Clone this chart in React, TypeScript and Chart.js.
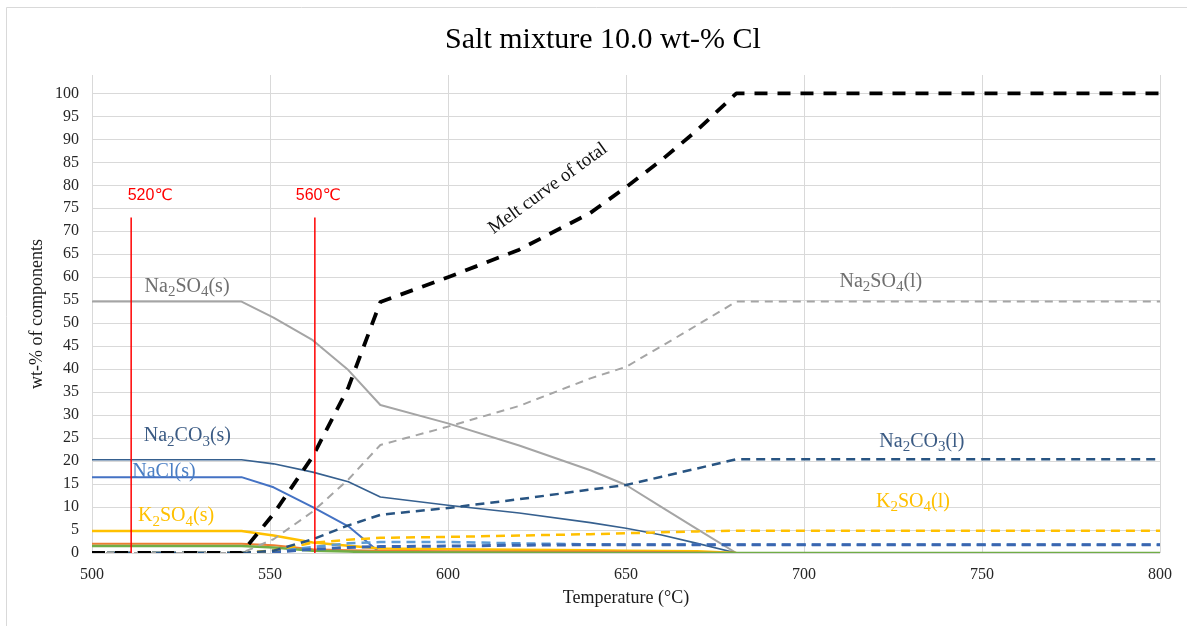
import { useEffect, useRef } from 'react';
import { Chart, registerables } from 'chart.js';

Chart.register(...registerables);

// Temperature grid (°C) shared by every series
const temps = [500, 542, 551, 562, 572, 581, 600, 620, 640, 650, 660, 670, 681, 800];

// wt-% of components
const meltTotal = [0, 0, 8.5, 21, 36, 54.6, 60, 66, 74, 79.6, 85.5, 92, 100, 100];
const na2so4Solid = [54.7, 54.7, 51.2, 46.3, 39.8, 32.2, 28.2, 23.4, 18, 14.8, 10, 5.2, 0, null];
const na2so4Liquid = [0, 0, 3, 9, 16, 23.5, 27.5, 32, 38, 40.5, 45, 49.6, 54.7, 54.7];
const na2co3Solid = [20.3, 20.3, 19.4, 17.6, 15.5, 12.2, 10.4, 8.7, 6.6, 5.4, 3.9, 2.1, 0, null];
const na2co3Liquid = [0, 0, 0.5, 3, 6, 8.3, 9.8, 11.7, 13.8, 14.8, 16.6, 18.4, 20.4, 20.4];
const naclSolid = [16.5, 16.5, 14.3, 10, 5.8, 0, null, null, null, null, null, null, null, null];
const naclLiquid = [0, 0, 0.3, 1.3, 2.1, 2.4, 2.4, 2.1, 1.9, 1.8, 1.8, 1.8, 1.8, 1.8];
const minorLiquid = [0, 0, 0.2, 0.8, 1.2, 1.4, 1.5, 1.7, 1.8, 1.8, 1.8, 1.8, 1.8, 1.8];
const k2so4Solid = [4.8, 4.8, 3.8, 2.3, 1.6, 1.0, 0.8, 0.7, 0.6, 0.5, 0.45, 0.4, 0, null];
const k2so4Liquid = [0, 0, 0.6, 2.2, 2.9, 3.3, 3.5, 3.8, 4.1, 4.3, 4.5, 4.7, 4.85, 4.85];
const orangeSolid = [2.0, 2.0, 1.7, 0.8, 0.6, 0.5, 0.4, 0.35, 0.3, 0.25, 0.2, 0.1, 0, null];
const greenSolid = [1.5, 1.5, 1.2, 0.5, 0.3, 0.15, 0.1, 0.05, 0, 0, 0, 0, 0, 0];

// Reference temperatures marked with red vertical lines
const markerTemps = [511, 562.6];
const markerTop = 73;
const markerTexts = ['520℃', '560℃'];

// Axis ticks
const xTicks = [500, 550, 600, 650, 700, 750, 800];
const yTickStep = 5;
const yTickMax = 100;

// In-plot text labels: [text, temperature, wt-%, colour]
const seriesLabels: [string, number, number, string][] = [
  ['Na2SO4(s)', 526.7, 58.3, '#6f6f6f'],
  ['Na2CO3(s)', 526.8, 25.7, '#3b5b84'],
  ['NaCl(s)', 520.2, 18.0, '#4a7ec4'],
  ['K2SO4(s)', 523.6, 8.3, '#ffc000'],
  ['Na2SO4(l)', 721.6, 59.3, '#6f6f6f'],
  ['Na2CO3(l)', 733.1, 24.6, '#3b5b84'],
  ['K2SO4(l)', 730.6, 11.5, '#ffc000'],
];
const markerLabelPos: [number, number][] = [[516.3, 77.8], [563.5, 77.8]];
const meltLabel = { text: 'Melt curve of total', x: 628.1, y: 79.3 };

const toPoints = (vals: (number | null)[]) => temps.map((t, i) => ({ x: t, y: vals[i] }));

const SERIF = '"Liberation Serif", "Times New Roman", serif';

function drawFormula(ctx: CanvasRenderingContext2D, text: string, cx: number, cy: number, size: number, color: string) {
  const parts: { s: string; sub: boolean }[] = [];
  for (const ch of text) {
    const sub = /[0-9]/.test(ch);
    const last = parts[parts.length - 1];
    if (last && last.sub === sub) last.s += ch;
    else parts.push({ s: ch, sub });
  }
  const subSize = Math.round(size * 0.74);
  let width = 0;
  for (const p of parts) {
    ctx.font = `${p.sub ? subSize : size}px ${SERIF}`;
    width += ctx.measureText(p.s).width;
  }
  let x = cx - width / 2;
  const base = cy + size * 0.33;
  ctx.fillStyle = color;
  ctx.textAlign = 'left';
  ctx.textBaseline = 'alphabetic';
  for (const p of parts) {
    ctx.font = `${p.sub ? subSize : size}px ${SERIF}`;
    ctx.fillText(p.s, x, p.sub ? base + size * 0.22 : base);
    x += ctx.measureText(p.s).width;
  }
}

const decorPlugin = {
  id: 'decor',
  beforeDraw(chart: any) {
    const ctx = chart.ctx as CanvasRenderingContext2D;
    ctx.save();
    ctx.fillStyle = '#ffffff';
    ctx.fillRect(0, 0, chart.width, chart.height);
    ctx.strokeStyle = '#d9d9d9';
    ctx.lineWidth = 1;
    ctx.beginPath();
    ctx.moveTo(6.5, chart.height);
    ctx.lineTo(6.5, 7.5);
    ctx.lineTo(chart.width, 7.5);
    ctx.stroke();
    ctx.restore();
  },
  afterDraw(chart: any) {
    const ctx = chart.ctx as CanvasRenderingContext2D;
    const xs = chart.scales.x;
    const ys = chart.scales.y;
    const area = chart.chartArea;
    ctx.save();

    // Title
    ctx.fillStyle = '#000000';
    ctx.textAlign = 'center';
    ctx.textBaseline = 'middle';
    ctx.font = `30px ${SERIF}`;
    ctx.fillText('Salt mixture 10.0 wt-% Cl', 603, 40);

    // Axis titles
    ctx.font = `18px ${SERIF}`;
    ctx.fillStyle = '#1a1a1a';
    ctx.fillText('Temperature (°C)', (area.left + area.right) / 2, 598);
    ctx.save();
    ctx.translate(37, (area.top + area.bottom) / 2);
    ctx.rotate(-Math.PI / 2);
    ctx.fillText('wt-% of components', 0, 0);
    ctx.restore();

    // Series labels
    for (const [text, t, v, color] of seriesLabels) {
      drawFormula(ctx, text, xs.getPixelForValue(t), ys.getPixelForValue(v), 20, color);
    }

    // Melt curve label
    ctx.save();
    ctx.translate(xs.getPixelForValue(meltLabel.x), ys.getPixelForValue(meltLabel.y));
    ctx.rotate((-36 * Math.PI) / 180);
    ctx.font = `19px ${SERIF}`;
    ctx.fillStyle = '#111111';
    ctx.textAlign = 'center';
    ctx.textBaseline = 'middle';
    ctx.fillText(meltLabel.text, 0, 0);
    ctx.restore();

    // Marker labels
    ctx.font = '16px "Liberation Sans", "DejaVu Sans", sans-serif';
    ctx.fillStyle = '#ff0000';
    ctx.textAlign = 'center';
    ctx.textBaseline = 'middle';
    markerTexts.forEach((txt, i) => {
      const [t, v] = markerLabelPos[i];
      ctx.fillText(txt, xs.getPixelForValue(t), ys.getPixelForValue(v));
    });
    ctx.restore();
  },
};

export default function App() {
  const canvasRef = useRef<HTMLCanvasElement | null>(null);

  useEffect(() => {
    document.body.style.margin = '0';
    const canvas = canvasRef.current;
    if (!canvas) return;

    const line = (data: any[], color: string, width: number, dash: number[] = []) => ({
      data,
      borderColor: color,
      backgroundColor: color,
      borderWidth: width,
      borderDash: dash,
      pointRadius: 0,
      fill: false,
      tension: 0,
      spanGaps: false,
      borderJoinStyle: 'round' as const,
    });

    const markerSets = markerTemps.map((t) => line([{ x: t, y: 0 }, { x: t, y: markerTop }], '#ff0000', 1.5));

    const chart = new Chart(canvas, {
      type: 'line',
      data: {
        datasets: [
          ...markerSets,
          line(toPoints(meltTotal), '#000000', 3.8, [13, 10]),
          line(toPoints(na2so4Liquid), '#a5a5a5', 2, [8, 6]),
          line(toPoints(na2co3Liquid), '#285482', 2.5, [9, 6]),
          line(toPoints(k2so4Liquid), '#ffc000', 2.5, [9, 6]),
          line(toPoints(minorLiquid), '#3a66b0', 3, [9, 6]),
          line(toPoints(naclLiquid), '#5b9bd5', 2.5, [9, 6]),
          line(toPoints(greenSolid), '#70ad47', 2.5),
          line(toPoints(orangeSolid), '#ed7d31', 2),
          line(toPoints(k2so4Solid), '#ffc000', 2.5),
          line(toPoints(naclSolid), '#4472c4', 2),
          line(toPoints(na2co3Solid), '#36608f', 1.6),
          line(toPoints(na2so4Solid), '#a5a5a5', 2),
        ],
      },
      options: {
        animation: false,
        responsive: false,
        devicePixelRatio: 1,
        events: [],
        layout: { padding: { top: 75, right: 27, left: 0, bottom: 0 } },
        plugins: { legend: { display: false }, tooltip: { enabled: false }, title: { display: false } },
        scales: {
          x: {
            type: 'linear',
            min: 500,
            max: 800,
            afterBuildTicks: (scale: any) => {
              scale.ticks = xTicks.map((v) => ({ value: v }));
            },
            afterFit: (scale: any) => {
              scale.height = 73;
            },
            grid: { color: '#d9d9d9', lineWidth: 1, drawTicks: false },
            border: { display: false },
            ticks: {
              padding: 12,
              color: '#262626',
              font: { family: SERIF, size: 16 },
              maxRotation: 0,
            },
          },
          y: {
            type: 'linear',
            min: 0,
            max: 104,
            afterBuildTicks: (scale: any) => {
              const ticks = [];
              for (let v = 0; v <= yTickMax; v += yTickStep) ticks.push({ value: v });
              scale.ticks = ticks;
            },
            afterFit: (scale: any) => {
              scale.width = 92;
            },
            grid: { color: '#d9d9d9', lineWidth: 1, drawTicks: false },
            border: { display: false },
            ticks: {
              padding: 13,
              color: '#262626',
              font: { family: SERIF, size: 16 },
            },
          },
        },
      },
      plugins: [decorPlugin],
    });

    return () => chart.destroy();
  }, []);

  return (
    <div style={{ width: 1187, height: 626, position: 'relative' }}>
      <canvas ref={canvasRef} width={1187} height={626} style={{ display: 'block', width: 1187, height: 626 }} />
    </div>
  );
}
